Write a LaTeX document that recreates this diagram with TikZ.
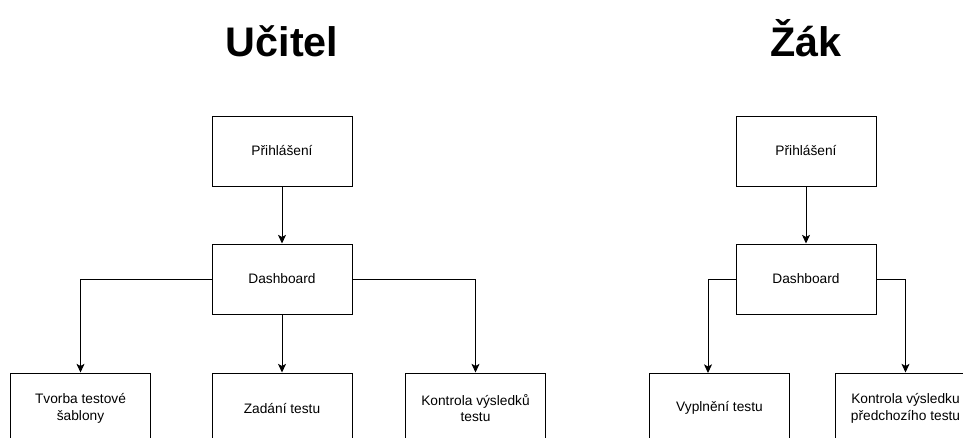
\documentclass[tikz,border=0pt]{standalone}
\usepackage{fontspec}
\setmainfont{Liberation Sans}
\usetikzlibrary{arrows.meta}
\tikzset{b/.style={draw, minimum width=105pt, minimum height=52.5pt, inner sep=0pt, align=center, font=\fontsize{10.3}{12.7}\selectfont}}
\tikzset{t/.style={anchor=base, font=\fontsize{31}{31}\selectfont\bfseries}}

\begin{document}
\begin{tikzpicture}[x=0.75pt, y=-0.75pt, line width=0.75pt,
    >={Stealth[length=6.5pt, width=6pt, inset=1.6pt]}]
    \path[use as bounding box, clip] (0,0) rectangle (963,437);
    % Ucitel
    \node[t] (UT) at (282,56) {Učitel};
    \node[b] (UP) at (282,151) {Přihlášení};
    \node[b] (UD) at (282,279) {Dashboard}
      edge [<-] (UP);
    \node[b] (UTv) at (80.5,408) {Tvorba testové\\šablony};
    \node[b] (UZ) at (282,408) {Zadání testu}
      edge [<-] (UD);
    \node[b] (UK) at (475.5,408) {Kontrola výsledků\\testu};
    \draw[->] (UD) -| (UTv);
    \draw[->] (UD) -| (UK);
    % Zak
    \node[t] (ZT) at (806,56) {Žák};
    \node[b] (ZP) at (806,151) {Přihlášení};
    \node[b] (ZD) at (806,279) {Dashboard}
      edge [<-] (ZP);
    \node[b] (ZV) at (719.5,408) {Vyplnění testu};
    \node[b] (ZK) at (905.5,408) {Kontrola výsledku\\předchozího testu};
    \coordinate (zv) at (708,373);
    \draw[->] (ZD) -| (zv);
    \draw[->] (ZD) -| (ZK);
\end{tikzpicture}
\end{document}
